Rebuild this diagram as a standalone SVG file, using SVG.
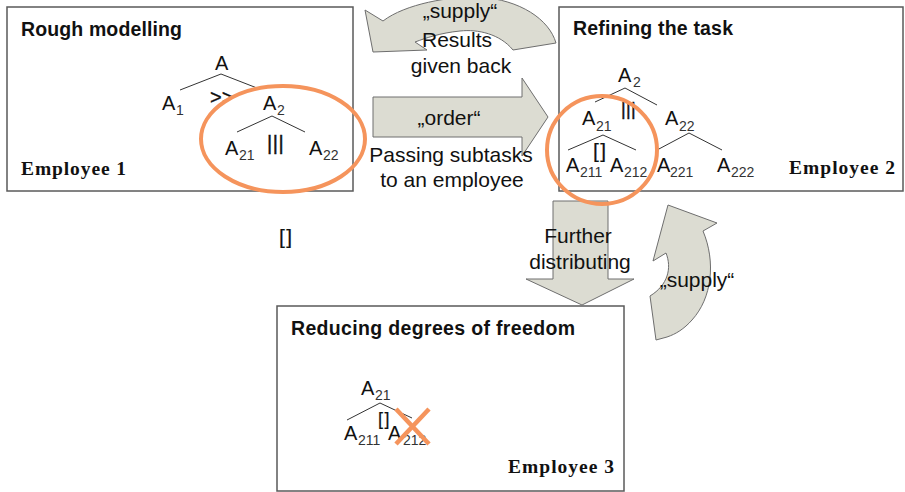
<svg xmlns="http://www.w3.org/2000/svg" width="905" height="492" viewBox="0 0 905 492">
  <style>
    .box { fill: #ffffff; stroke: #5a5a5a; stroke-width: 1.5; }
    .title { font-family: "Liberation Sans", Arial, sans-serif; font-weight: bold; font-size: 19.5px; fill: #111; }
    .emp { font-family: "Liberation Serif", "Times New Roman", serif; font-weight: bold; font-size: 19.5px; fill: #111; }
    .node { font-family: "Liberation Sans", Arial, sans-serif; font-size: 20px; fill: #111; }
    .sub { font-family: "Liberation Sans", Arial, sans-serif; font-size: 14px; fill: #333; }
    .op { font-family: "Liberation Sans", Arial, sans-serif; font-size: 21px; fill: #111; stroke: #111; stroke-width: 0.4; }
    .br { letter-spacing: 1.5px; stroke-width: 0.2; }
    .edge { stroke: #333; stroke-width: 1; fill: none; }
    .arrow { fill: #dcdcd2; stroke: #6e6e6e; stroke-width: 1; }
    .lbl { font-family: "Liberation Sans", Arial, sans-serif; font-size: 21px; fill: #111; text-anchor: middle; }
    .mark { fill: none; stroke: #f5945c; stroke-width: 4; }
  </style>

  <!-- Employee 1: rough modelling -->
  <g id="employee1">
    <rect class="box" x="7" y="7" width="346" height="184"/>
    <text class="title" x="21" y="36" textLength="161" lengthAdjust="spacing">Rough modelling</text>
    <text class="emp" x="21" y="175" textLength="105" lengthAdjust="spacing">Employee 1</text>
    <line class="edge" x1="221" y1="74" x2="180" y2="90"/>
    <line class="edge" x1="221" y1="74" x2="257" y2="88"/>
    <line class="edge" x1="272" y1="116" x2="237" y2="132"/>
    <line class="edge" x1="272" y1="116" x2="305" y2="132"/>
    <text class="node" x="215" y="70">A</text>
    <text class="node" x="162" y="110">A</text><text class="sub" x="176" y="115">1</text>
    <text class="op" x="210" y="104" style="font-size:20px;stroke-width:0.3">&gt;&gt;</text>
    <text class="node" x="263" y="110">A</text><text class="sub" x="277" y="115">2</text>
    <text class="node" x="225" y="155">A</text><text class="sub" x="239" y="160">21</text>
    <text class="op" x="267" y="150" style="font-size:20px" letter-spacing="0.6">|||</text>
    <text class="node" x="309" y="155">A</text><text class="sub" x="323" y="160">22</text>
  </g>

  <!-- Employee 2: refining the task -->
  <g id="employee2">
    <rect class="box" x="559" y="7" width="344" height="184"/>
    <text class="title" x="573" y="35" textLength="160" lengthAdjust="spacing">Refining the task</text>
    <text class="emp" x="789" y="174" textLength="106" lengthAdjust="spacing">Employee 2</text>
    <line class="edge" x1="625" y1="88" x2="595" y2="102"/>
    <line class="edge" x1="625" y1="88" x2="657" y2="105"/>
    <line class="edge" x1="603" y1="135" x2="568" y2="150"/>
    <line class="edge" x1="603" y1="135" x2="636" y2="150"/>
    <line class="edge" x1="689" y1="133" x2="657" y2="150"/>
    <line class="edge" x1="689" y1="133" x2="722" y2="150"/>
    <text class="node" x="618" y="82">A</text><text class="sub" x="633" y="87">2</text>
    <text class="op" x="621" y="115" style="font-size:18px" letter-spacing="0.3">|||</text>
    <text class="node" x="582" y="125">A</text><text class="sub" x="596" y="131">21</text>
    <text class="node" x="665" y="125">A</text><text class="sub" x="679" y="131">22</text>
    <text class="op br" x="593" y="158">[]</text>
    <text class="node" x="566" y="172">A</text><text class="sub" x="580" y="177">211</text>
    <text class="node" x="610" y="172">A</text><text class="sub" x="624" y="177">212</text>
    <text class="node" x="657" y="172">A</text><text class="sub" x="670" y="177">221</text>
    <text class="node" x="717" y="172">A</text><text class="sub" x="731" y="177">222</text>
  </g>

  <!-- Employee 3: reducing degrees of freedom -->
  <g id="employee3">
    <rect class="box" x="277" y="306" width="347" height="185"/>
    <text class="title" x="291" y="335" textLength="284" lengthAdjust="spacing">Reducing degrees of freedom</text>
    <text class="emp" x="508" y="473" textLength="106" lengthAdjust="spacing">Employee 3</text>
    <line class="edge" x1="380" y1="403" x2="347" y2="420"/>
    <line class="edge" x1="380" y1="403" x2="412" y2="418"/>
    <text class="node" x="361" y="395">A</text><text class="sub" x="375" y="400">21</text>
    <text class="op br" x="378" y="425" style="font-size:18px">[]</text>
    <text class="node" x="344" y="440">A</text><text class="sub" x="358" y="445">211</text>
    <text class="node" x="388" y="440">A</text><text class="sub" x="403" y="445">212</text>
  </g>

  <!-- stray choice operator -->
  <g id="choice">
    <text class="op br" x="279" y="244">[]</text>
  </g>

  <!-- block arrows between the employees -->
  <g id="connectors">
    <!-- results handed back (curved, pointing left) -->
    <path class="arrow" d="M 373,52 L 365,10 L 383,21 C 405,4 450,-4 480,-3 C 520,0 549,19 556,43 L 513,50 C 500,34 478,29 460,31 C 440,33 426,38 415,42 L 427,50 Z"/>
    <!-- order passed on -->
    <path class="arrow" d="M 373,97 L 522,97 L 522,78 L 548,117 L 522,156 L 522,137 L 373,137 Z"/>
    <!-- further distributing -->
    <path class="arrow" d="M 553,201 L 608,201 L 608,279 L 634,279 L 582,305 L 526,279 L 553,279 Z"/>
    <!-- supply back up (curved, pointing up) -->
    <path class="arrow" d="M 668,205 L 717,223 L 703,231 C 716,262 712,298 692,320 C 684,329 676,334 667,337 L 656,340 L 650,296 C 668,285 672,268 666,253 L 653,261 Z"/>

    <text class="lbl" x="460" y="18">„supply“</text>
    <text class="lbl" x="457" y="47">Results</text>
    <text class="lbl" x="461" y="73">given back</text>
    <text class="lbl" x="449" y="125">„order“</text>
    <text class="lbl" x="451" y="162">Passing subtasks</text>
    <text class="lbl" x="452" y="187">to an employee</text>
    <text class="lbl" x="578" y="243">Further</text>
    <text class="lbl" x="580" y="269">distributing</text>
    <text class="lbl" x="697" y="287">„supply“</text>
  </g>

  <!-- highlight marks -->
  <g id="highlights">
    <ellipse class="mark" cx="283" cy="139" rx="82" ry="53"/>
    <ellipse class="mark" cx="602" cy="150" rx="55" ry="54"/>
    <line class="mark" x1="396" y1="409" x2="429" y2="444" style="stroke-width:4.5"/>
    <line class="mark" x1="429" y1="409" x2="396" y2="444" style="stroke-width:4.5"/>
  </g>
</svg>
